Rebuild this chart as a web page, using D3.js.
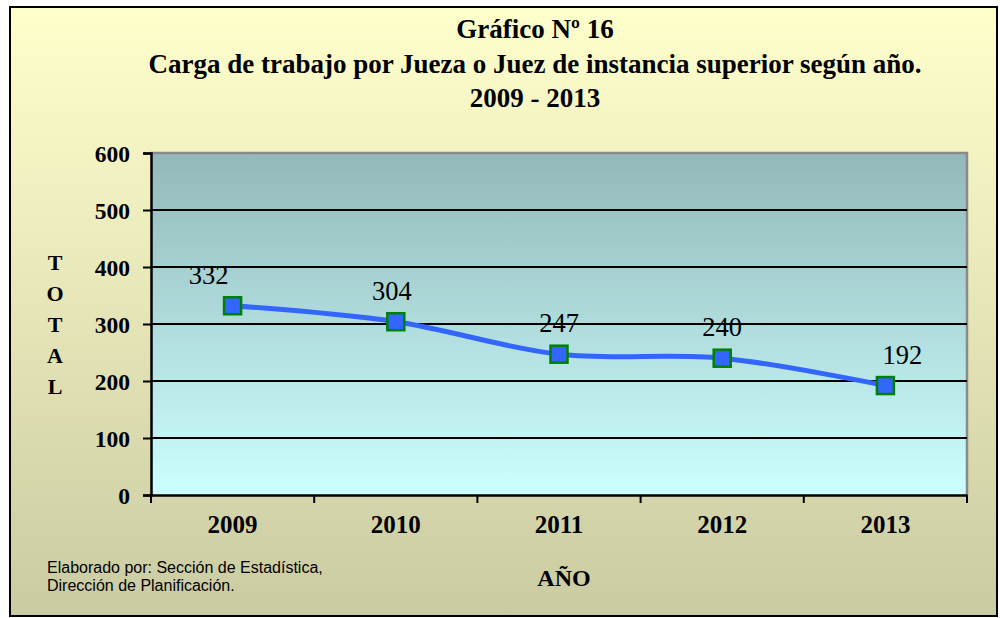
<!DOCTYPE html>
<html lang="es">
<head>
    <meta charset="UTF-8">
    <title>Gráfico Nº 16</title>
    <script src="https://d3js.org/d3.v7.min.js"></script>
    <style>
        body { margin: 0; background: #fff; }
        svg { display: block; }
        .title { font-family: "Liberation Serif", "Times New Roman", serif; font-weight: bold; font-size: 27px; fill: #000; }
        .tick-label { font-family: "Liberation Serif", "Times New Roman", serif; font-weight: bold; font-size: 25px; fill: #000; }
        .ytick-label { font-family: "Liberation Serif", "Times New Roman", serif; font-weight: bold; font-size: 23.5px; fill: #000; }
        .axis-title { font-family: "Liberation Serif", "Times New Roman", serif; font-weight: bold; font-size: 22px; fill: #000; }
        .value-label { font-family: "Liberation Serif", "Times New Roman", serif; font-weight: normal; font-size: 26.5px; fill: #000; }
        .note { font-family: "Liberation Sans", Arial, sans-serif; font-size: 16px; fill: #000; }
    </style>
</head>
<body>
<svg width="1000" height="618"></svg>
<script>
    // Chart data
    const years = ["2009", "2010", "2011", "2012", "2013"];
    const totals = [332, 304, 247, 240, 192];
    const yTicks = [0, 100, 200, 300, 400, 500, 600];
    const titleLines = [
        "Gráfico Nº 16",
        "Carga de trabajo por Jueza o Juez de instancia superior según año.",
        "2009 - 2013"
    ];

    const svg = d3.select("svg");

    // gradients
    const defs = svg.append("defs");
    const bg = defs.append("linearGradient").attr("id", "bgGrad")
        .attr("x1", 0).attr("y1", 0).attr("x2", 0).attr("y2", 1);
    bg.append("stop").attr("offset", "0%").attr("stop-color", "#ffffcc");
    bg.append("stop").attr("offset", "100%").attr("stop-color", "#cbcba3");
    const pg = defs.append("linearGradient").attr("id", "plotGrad")
        .attr("x1", 0).attr("y1", 0).attr("x2", 0).attr("y2", 1);
    pg.append("stop").attr("offset", "0%").attr("stop-color", "#93b8b9");
    pg.append("stop").attr("offset", "100%").attr("stop-color", "#ccffff");

    // outer frame
    svg.append("rect")
        .attr("x", 10).attr("y", 7).attr("width", 987).attr("height", 609)
        .attr("fill", "url(#bgGrad)")
        .attr("stroke", "#000").attr("stroke-width", 2);

    // titles
    svg.selectAll(".title")
        .data(titleLines)
        .enter().append("text")
        .attr("class", "title")
        .attr("x", 535)
        .attr("y", (d, i) => 38 + i * 34.5)
        .attr("text-anchor", "middle")
        .text(d => d);

    const margin = {left: 151, top: 153, right: 967, bottom: 495};
    const x = d3.scaleBand().domain(years).range([margin.left, margin.right]);
    const y = d3.scaleLinear().domain([0, 600]).range([margin.bottom, margin.top]);

    // plot area
    svg.append("rect")
        .attr("x", margin.left).attr("y", margin.top)
        .attr("width", margin.right - margin.left).attr("height", margin.bottom - margin.top)
        .attr("fill", "url(#plotGrad)");
    svg.append("path")
        .attr("d", `M${margin.left},${margin.top}H${margin.right}V${margin.bottom}`)
        .attr("fill", "none").attr("stroke", "#8a8a8a").attr("stroke-width", 2.5);

    // gridlines
    svg.append("g")
        .selectAll("line")
        .data(yTicks.filter(d => d > 0 && d < 600))
        .enter().append("line")
        .attr("x1", margin.left).attr("x2", margin.right)
        .attr("y1", d => y(d)).attr("y2", d => y(d))
        .attr("stroke", "#000").attr("stroke-width", 2);

    // y axis
    const yAxis = svg.append("g")
        .attr("transform", `translate(${margin.left},0)`)
        .call(d3.axisLeft(y).tickValues(yTicks).tickSize(8).tickPadding(13).tickFormat(d3.format("d")));
    yAxis.attr("font-size", null).attr("font-family", null);
    yAxis.select(".domain").attr("stroke", "#000").attr("stroke-width", 2.5);
    yAxis.selectAll(".tick line").attr("stroke", "#000").attr("stroke-width", 2);
    yAxis.selectAll(".tick text").attr("class", "ytick-label").attr("dy", "0.38em");

    // x axis
    const xAxis = svg.append("g")
        .attr("transform", `translate(0,${margin.bottom})`)
        .call(d3.axisBottom(x).tickSize(0).tickPadding(26));
    xAxis.attr("font-size", null).attr("font-family", null);
    xAxis.select(".domain").attr("stroke", "#000").attr("stroke-width", 2.5);
    xAxis.selectAll(".tick text").attr("class", "tick-label").attr("dy", "0.48em");
    // boundary tick marks between categories
    svg.append("g")
        .selectAll("line")
        .data(years.concat(["end"]))
        .enter().append("line")
        .attr("x1", (d, i) => margin.left + i * x.step())
        .attr("x2", (d, i) => margin.left + i * x.step())
        .attr("y1", margin.bottom).attr("y2", margin.bottom + 8)
        .attr("stroke", "#000").attr("stroke-width", 2);

    // line + markers
    const cx = d => x(d) + x.bandwidth() / 2;
    const line = d3.line()
        .x((d, i) => cx(years[i]))
        .y(d => y(d))
        .curve(d3.curveCatmullRom.alpha(0.5));
    svg.append("path")
        .datum(totals)
        .attr("d", line)
        .attr("fill", "none")
        .attr("stroke", "#3366ff")
        .attr("stroke-width", 5);

    svg.selectAll(".marker")
        .data(totals)
        .enter().append("rect")
        .attr("class", "marker")
        .attr("x", (d, i) => cx(years[i]) - 8.5)
        .attr("y", d => y(d) - 8.5)
        .attr("width", 17).attr("height", 17)
        .attr("fill", "#3366ff")
        .attr("stroke", "#008000").attr("stroke-width", 2.5);

    // value labels (small horizontal nudges as in the original)
    const labelDx = [-24, -4, 0, 0, 17];
    svg.selectAll(".value-label")
        .data(totals)
        .enter().append("text")
        .attr("class", "value-label")
        .attr("x", (d, i) => cx(years[i]) + labelDx[i])
        .attr("y", d => y(d) - 22)
        .attr("text-anchor", "middle")
        .text(d => d);

    // axis titles
    const yLetters = "TOTAL".split("");
    svg.selectAll(".ylab")
        .data(yLetters)
        .enter().append("text")
        .attr("class", "axis-title")
        .attr("x", 55)
        .attr("y", (d, i) => 270 + i * 31)
        .attr("text-anchor", "middle")
        .text(d => d);

    svg.append("text")
        .attr("class", "axis-title")
        .attr("x", 564).attr("y", 586)
        .attr("text-anchor", "middle")
        .style("font-size", "24px")
        .text("AÑO");

    // footnote
    svg.append("text").attr("class", "note").attr("x", 47).attr("y", 573)
        .text("Elaborado por: Sección de Estadística,");
    svg.append("text").attr("class", "note").attr("x", 47).attr("y", 591)
        .text("Dirección de Planificación.");
</script>
</body>
</html>
